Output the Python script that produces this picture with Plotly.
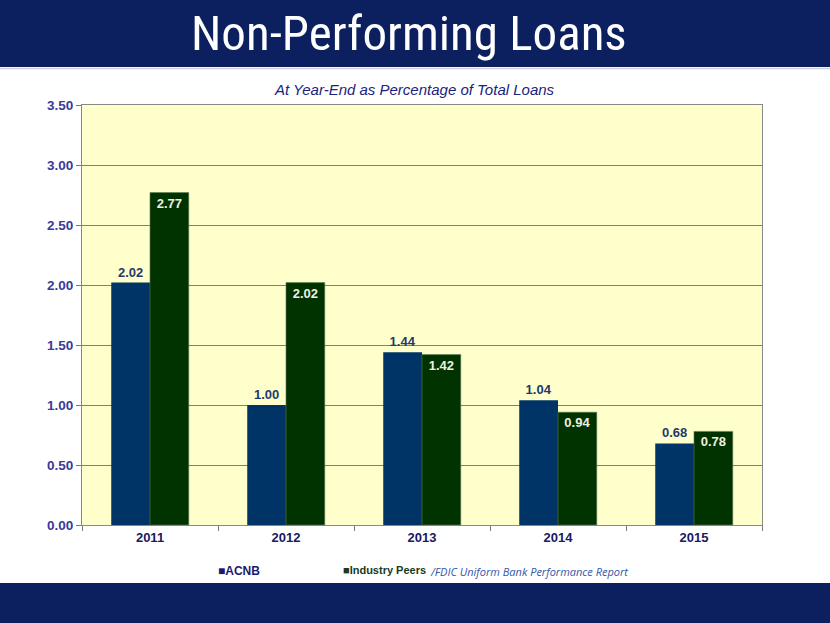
import plotly.graph_objects as go

years = ["2011", "2012", "2013", "2014", "2015"]
acnb = [2.02, 1.00, 1.44, 1.04, 0.68]
peers = [2.77, 2.02, 1.42, 0.94, 0.78]
y_ticks = [0, 0.5, 1.0, 1.5, 2.0, 2.5, 3.0, 3.5]
y_tick_labels = ["0.00", "0.50", "1.00", "1.50", "2.00", "2.50", "3.00", "3.50"]

NAVY_BAR = "#003366"
GREEN_BAR = "#003300"
BAND = "#0c1f5e"

fig = go.Figure()
fig.add_trace(go.Bar(
    x=years, y=acnb, name="ACNB", marker=dict(color=NAVY_BAR, line=dict(width=0)),
    text=[f"{v:.2f}" for v in acnb], textposition="outside",
    textfont=dict(family="Arial, Liberation Sans", size=13, color="#1f3a6e"),
    cliponaxis=False,
))
fig.add_trace(go.Bar(
    x=years, y=peers, name="Industry Peers",
    marker=dict(color=GREEN_BAR, line=dict(width=0.6, color="#5a7a5a")),
    text=[f"{v:.2f}" for v in peers], textposition="inside", insidetextanchor="end",
    textfont=dict(family="Arial, Liberation Sans", size=13, color="#f0f0e0"),
    cliponaxis=False,
))

fig.update_traces(texttemplate="<b>%{text}</b>", textangle=0)

fig.update_layout(
    width=830, height=623,
    margin=dict(l=82, r=68, t=105, b=98),
    paper_bgcolor="white",
    plot_bgcolor="#ffffcc",
    barmode="group", bargap=0.43, bargroupgap=0,
    showlegend=False,
    xaxis=dict(
        type="category", tickson="boundaries", ticks="outside", ticklen=5,
        tickcolor="#777777", showline=True, linecolor="#888888", linewidth=1,
        mirror=True, showgrid=False,
        tickfont=dict(family="Arial, Liberation Sans", size=13, color="#1a1a5e"),
        tickprefix="<b>", ticksuffix="</b>",
    ),
    yaxis=dict(
        range=[0, 3.5], tickvals=y_ticks, ticktext=[f"<b>{t}</b>" for t in y_tick_labels],
        ticks="outside", ticklen=5, tickcolor="#777777",
        showline=True, linecolor="#888888", linewidth=1, mirror=True,
        showgrid=True, gridcolor="#808078", gridwidth=1, zeroline=False,
        tickfont=dict(family="Arial, Liberation Sans", size=13.5, color="#3a3a9a"),
    ),
)

# Header and footer bands
fig.add_shape(type="rect", xref="paper", yref="paper", x0=-0.2, x1=1.2,
              y0=(623 - 67 - 98) / 420, y1=(623 - 98) / 420 + 0.5,
              fillcolor=BAND, line=dict(width=0), layer="below")
fig.add_shape(type="line", xref="paper", yref="paper", x0=-0.2, x1=1.2,
              y0=(623 - 68.5 - 98) / 420, y1=(623 - 68.5 - 98) / 420,
              line=dict(color="#d0d0d8", width=1.5))
fig.add_shape(type="rect", xref="paper", yref="paper", x0=-0.2, x1=1.2,
              y0=-1, y1=-(583 - 525) / 420,
              fillcolor=BAND, line=dict(width=0), layer="below")

annotations = [
    dict(text="Non-Performing Loans", xref="paper", yref="paper",
         x=(409 - 82) / 680, y=(623 - 34 - 98) / 420, xanchor="center", yanchor="middle",
         showarrow=False, font=dict(family="Liberation Sans Narrow, Arial Narrow, Roboto Condensed, sans-serif",
                                    size=49, color="white")),
    dict(text="<i>At Year-End as Percentage of Total Loans</i>", xref="paper", yref="paper",
         x=(414 - 82) / 680, y=(623 - 90 - 98) / 420, xanchor="center", yanchor="middle",
         showarrow=False, font=dict(family="Liberation Sans Narrow, Arial Narrow, sans-serif",
                                    size=15, color="#1a237e")),
    dict(text="<b>■ACNB</b>", xref="paper", yref="paper",
         x=(216 - 82) / 680, y=-(571 - 525) / 420, xanchor="left", yanchor="middle",
         showarrow=False, font=dict(family="Arial, Liberation Sans", size=12, color="#1a1a6e")),
    dict(text="<b>■Industry Peers</b>", xref="paper", yref="paper",
         x=(341 - 82) / 680, y=-(570 - 525) / 420, xanchor="left", yanchor="middle",
         showarrow=False, font=dict(family="Arial, Liberation Sans", size=11, color="#1a3a1a")),
    dict(text="<i>/FDIC Uniform Bank Performance Report</i>", xref="paper", yref="paper",
         x=(428 - 82) / 680, y=-(571 - 525) / 420, xanchor="left", yanchor="middle",
         showarrow=False, font=dict(family="Open Sans, Liberation Sans, sans-serif",
                                    size=11, color="#3355aa")),
]
fig.update_layout(annotations=annotations)

fig.write_html("out.html", config={"displayModeBar": False},
               post_script="document.body.style.margin='0';")
